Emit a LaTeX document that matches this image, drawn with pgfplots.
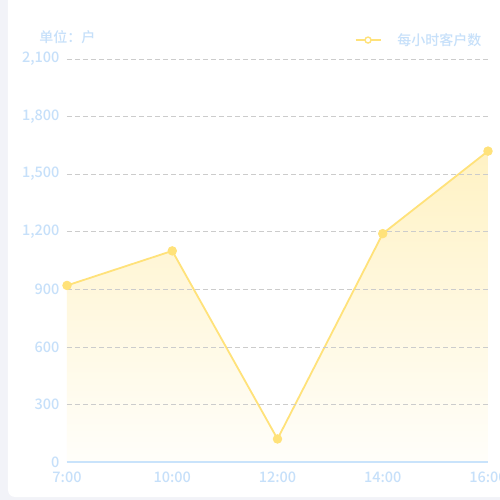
\documentclass[border=0pt]{standalone}
\usepackage{fontspec}
\setmainfont{Noto Sans CJK SC}[UprightFont=* Medium]
\usepackage{pgfplots}
\pgfplotsset{compat=1.18}
\definecolor{lineY}{HTML}{FFE27A}
\definecolor{fillTop}{HTML}{FFF2C4}
\definecolor{fillBot}{HTML}{FFFEFA}
\definecolor{txtB}{HTML}{C6E0FA}
\definecolor{axB}{HTML}{C9E3FB}
\definecolor{gridG}{HTML}{CCCCCC}
\definecolor{bgG}{HTML}{F2F3F8}
\begin{document}
\begin{tikzpicture}[x=1pt,y=1pt]
\path[use as bounding box] (-67,-38) rectangle (433,462);
\fill[bgG] (-67,-38) rectangle (433,462);
\fill[white, rounded corners=7pt] (-59,-35) rectangle (470,500);
\begin{axis}[
 at={(0,0)}, anchor=south west,
 scale only axis, width=421pt, height=403pt,
 xmin=0, xmax=4, ymin=0, ymax=2100,
 xtick={0,...,4}, xticklabels={7:00,10:00,12:00,14:00,16:00},
 ytick={0,300,...,2100},
 axis x line*=bottom, axis y line*=left,
 y axis line style={draw=none},
 x axis line style={axB, line width=1.5pt, -},
 major tick length=0pt,
 ymajorgrids,
 axis on top,
 grid style={gridG, dash pattern=on 5pt off 3pt, line width=0.7pt},
 /pgf/number format/assume math mode=true,
 /pgf/number format/1000 sep={,},
 ticklabel style={font=\fontsize{14.5}{16}\selectfont, text=txtB},
 yticklabel style={xshift=-4pt},
 xticklabel style={yshift=-6pt},
 legend style={draw=none, fill=none, at={(0.683,1.047)}, anchor=west,
   font=\fontsize{14}{16}\selectfont, text=txtB, inner sep=0pt},
 legend image code/.code={\draw[mark repeat=2,mark phase=2,#1] plot coordinates {(0pt,0pt)(12.5pt,0pt)(25pt,0pt)};},
 clip=false,
]
\addplot[draw=none, top color=fillTop, bottom color=fillBot, forget plot]
 coordinates {(0,920) (1,1100) (2,120) (3,1190) (4,1620)} \closedcycle;
\addplot[lineY, line width=1.8pt, mark=*, mark size=4.3pt,
  mark options={fill=lineY, draw=lineY, line width=0.8pt}, forget plot]
 coordinates {(0,920) (1,1100) (2,120) (3,1190) (4,1620)};
\addlegendimage{lineY, line width=1.6pt, mark=*, mark size=3pt, mark options={fill=white, draw=lineY, line width=1.4pt}}
\addlegendentry{\hspace*{14pt}每小时客户数}
\end{axis}
\node[text=txtB, font=\fontsize{14}{16}\selectfont] at (0.5,425) {单位：户};
\end{tikzpicture}
\end{document}
